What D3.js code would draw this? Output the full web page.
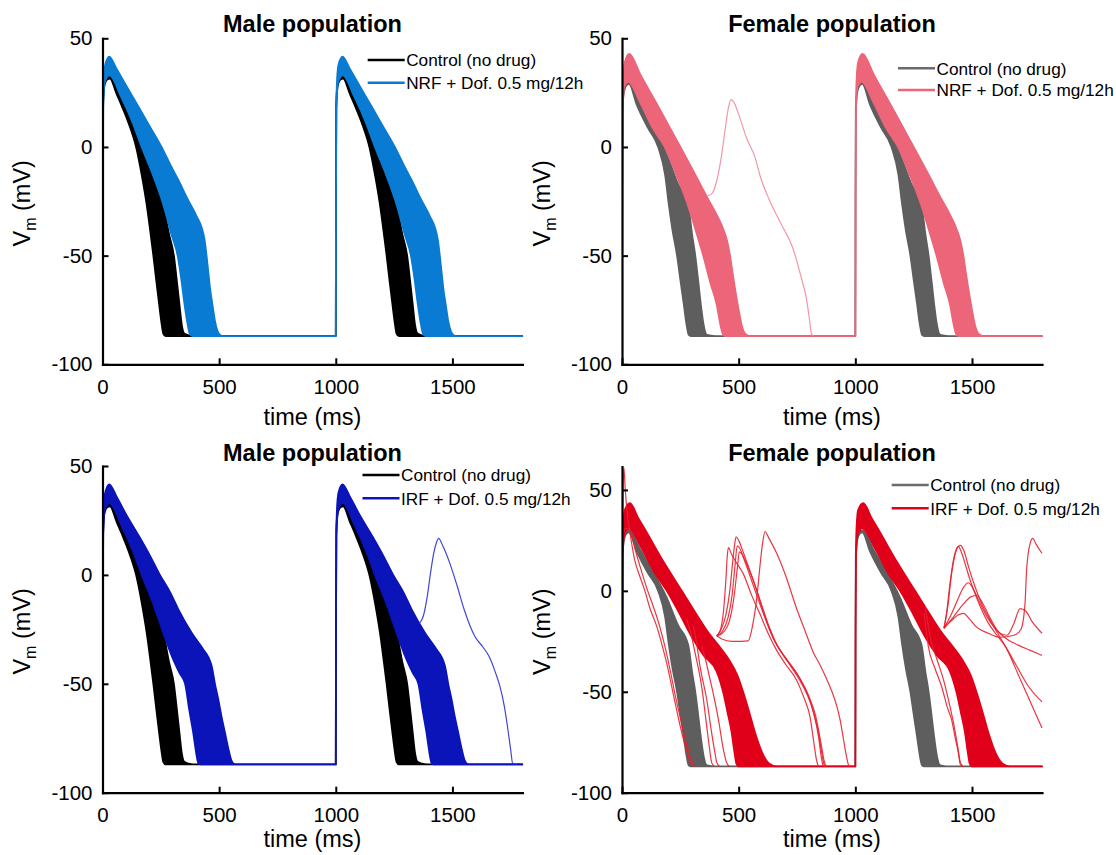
<!DOCTYPE html>
<html>
<head>
<meta charset="utf-8">
<script src="https://cdn.jsdelivr.net/npm/d3@7"></script>
<style>
  body { margin: 0; background: #fff; }
  text { font-family: "Liberation Sans", Arial, Helvetica, sans-serif; fill: #000; }
</style>
</head>
<body>
<svg id="fig" width="1116" height="855"></svg>
<script>
// ticks and time window
var xTicks = [0, 500, 1000, 1500];
var yTicks = [-100, -50, 0, 50];
var beatStarts = [0, 1000];
var timeEnd = 1800;
var restPotential = -87;

// one beat, [time (ms) after stimulus, Vm (mV)]
// "early" = first trace to repolarise, "late" = last one: the population lies between
var maleCtrlEarly = [[0,-87],[1,-20],[2,18],[8,28],[20,31],[32,31.5],[60,24.5],[82,19],[115,10],[144,0],[170,-14],[190,-27],[205,-39],[218,-50],[231,-62],[243,-72.6],[253,-81],[261,-86],[270,-87]];
var maleCtrlLate = [[0,-87],[1,-20],[2,20],[8,29],[20,32],[32,32.5],[80,24],[130,13],[180,0],[230,-15],[262,-27],[285,-40],[306,-50],[318,-61],[330,-72.6],[340,-82],[350,-85.8],[370,-86.7],[390,-87]];

var maleNrfEarly = [[0,-87],[1,-20],[3,18],[10,30],[30,33],[80,23],[130,11],[168,0],[220,-14],[262,-27],[295,-40],[322,-50],[338,-61],[352,-72.6],[364,-81],[374,-86],[385,-87]];
var maleNrfLate = [[0,-87],[1,-20],[3,22],[6,32],[12,38],[29,41.6],[60,36],[100,28.5],[158,17.8],[205,9],[253,0],[290,-8],[325,-15.2],[365,-24],[404,-32],[425,-37],[438,-43],[446,-50],[454,-58],[461,-65],[472,-73],[482,-80],[494,-85],[505,-86.6],[515,-87]];

var maleIrfEarly = [[0,-87],[1,-20],[3,18],[10,30],[30,33],[80,23],[130,11],[168,0],[220,-14],[262,-27],[300,-38],[330,-45],[354,-50],[372,-62],[389,-72.5],[402,-82],[411,-86.5],[420,-87]];
var maleIrfLate = [[0,-87],[1,-20],[3,22],[6,32],[12,38],[29,41.6],[60,36],[100,28],[158,17.5],[205,8.5],[246,0],[290,-8],[325,-15.8],[382,-26.5],[432,-34.2],[455,-38],[468,-41.8],[482,-50],[496,-57],[510,-65],[525,-72.5],[540,-80],[552,-85],[563,-86.7],[575,-87]];

var femaleCtrlEarly = [[0,-87],[1,-20],[2,16],[8,25],[20,28.5],[30,29],[63,19.5],[110,9],[155,0],[185,-13],[200,-26],[216,-38],[236,-50],[250,-61],[265,-72.6],[277,-82],[286,-86.5],[295,-87]];
var femaleCtrlLate = [[0,-87],[1,-20],[2,18],[8,26],[20,29.5],[30,30],[80,20],[130,10],[190,-3],[240,-17],[284,-27],[300,-40],[314,-50],[327,-62],[338,-72.6],[350,-82],[362,-86.3],[380,-86.8],[400,-87]];

var femaleNrfEarly = [[0,-87],[1,-20],[3,18],[10,28],[27,30],[80,20],[130,9],[183,0],[230,-12],[280,-26],[315,-38],[348,-50],[380,-63],[406,-72.6],[422,-82],[434,-86.5],[445,-87]];
var femaleNrfLate = [[0,-87],[1,-20],[3,22],[6,32],[12,39],[31,42.8],[80,33],[151,19.5],[250,0],[310,-12],[374,-25],[400,-30],[427,-36],[450,-43],[463,-50],[474,-58],[484,-65],[500,-75],[513,-82],[530,-86.2],[550,-87]];

var femaleIrfEarly = [[0,-87],[1,-20],[3,18],[10,28],[30,31],[80,22],[140,9],[192,0],[250,-12],[300,-23],[350,-32],[406,-40],[434,-50.4],[452,-60],[470,-70.2],[482,-80],[490,-85.5],[500,-87]];
var femaleIrfLate = [[0,-87],[1,-20],[3,22],[6,33],[12,40],[34,43.4],[70,36],[106,28.9],[180,14],[256,0],[310,-10],[370,-20.7],[420,-28],[463,-35],[495,-42],[520,-50.4],[545,-60],[570,-70.2],[600,-80],[630,-85.5],[663,-87]];

// single traces that leave the population (absolute time, ms)
var femaleNrfOutliers = [
  [[366,-22.5],[385,-21.5],[405,-16],[425,-5],[442,8],[456,18],[467,21.8],[480,20.5],[500,15],[534,4],[571,-5],[591,-13],[632,-24.5],[680,-35],[735,-47.4],[768,-60],[789,-69],[803,-79],[812,-86],[822,-87]]
];
var maleIrfOutliers = [
  [[1359,-22.2],[1375,-19],[1392,-10],[1405,0],[1420,10],[1432,15],[1441,16.8],[1460,13],[1489,5.3],[1520,-5],[1551,-16.1],[1597,-28.4],[1630,-33],[1658,-37.6],[1685,-45],[1704,-51.3],[1722,-60],[1734,-68.1],[1750,-80.4],[1758,-86.5],[1770,-87]]
];
var femaleIrfOutliers = [
  // early repolarisers, first beat
  [[0,-87],[1,-10],[3,40],[8,61],[14,50],[23,38],[34,29],[55,15],[77,7],[98,0],[118,-8],[150,-18],[172,-27],[196,-38],[214,-48],[236,-60],[262,-73],[282,-81],[296,-85.5],[310,-87]],
  [[0,-87],[1,-10],[2,24],[15,31],[34,30],[60,19],[88,8],[110,0],[132,-7],[160,-17],[185,-28],[206,-39],[225,-50],[248,-62],[272,-74],[292,-82],[305,-86],[318,-87]],
  [[277,-14],[295,-21],[313,-30.6],[341,-47.1],[363,-67],[375,-78],[384,-85],[395,-87]],
  [[306,-17.3],[320,-26],[334,-37.2],[363,-53.7],[384,-70.2],[398,-80],[406,-85],[418,-87]],
  [[341,-27.2],[360,-35],[377,-43.7],[395,-53],[413,-63.5],[434,-78.3],[448,-85],[460,-87]],
  // after-depolarisations, first beat
  [[406,-22.3],[420,-20],[435,-10],[445,5],[451,17],[456,21.4],[470,18],[490,14],[520,8.4],[555,-2],[591,-11.4],[630,-22],[663,-29.5],[705,-37],[749,-44.4],[780,-53],[806,-62.6],[822,-75],[834,-84],[842,-87]],
  [[406,-22.3],[425,-19],[445,-12],[462,0],[475,15],[484,24],[489,26.8],[500,25],[520,19],[545,11],[575,1],[610,-12],[650,-24],[700,-33],[750,-41],[790,-50],[820,-60],[842,-72],[855,-83],[862,-87]],
  [[406,-22.3],[430,-20],[455,-13],[472,-2],[484,12],[494,22.3],[505,21],[525,15],[550,7],[580,-3],[615,-14],[655,-25],[705,-34],[760,-43],[800,-52],[830,-62],[852,-75],[866,-84],[874,-87]],
  [[406,-22.3],[430,-21],[460,-15],[480,-3],[495,12],[503,19.3],[515,18],[535,13],[560,6],[590,-4],[625,-16],[665,-27],[715,-36],[770,-46],[810,-56],[838,-68],[856,-80],[866,-86],[874,-87]],
  [[406,-22.3],[430,-24],[470,-25],[510,-25],[541,-24.8],[560,-17],[577,-4.2],[591,12],[603,24],[613,29.4],[630,26],[663,18.6],[700,8],[749,-9],[785,-20],[820,-30.5],[850,-37],[877,-43.7],[900,-50],[920,-56.9],[935,-64],[949,-73.4],[962,-82],[970,-86],[978,-87]],
  // early repolarisers, second beat
  [[1295,-10.7],[1313,-27.6],[1340,-38],[1370,-47.5],[1395,-58],[1413,-64],[1430,-74],[1441,-80],[1450,-86],[1460,-87]],
  [[1300,-8],[1325,-25],[1350,-34],[1380,-45],[1405,-57],[1425,-68],[1440,-78],[1450,-85],[1462,-87]],
  // after-depolarisations, second beat
  [[1380,-18.5],[1392,-10],[1405,3],[1420,15],[1441,22],[1455,19],[1470,13.6],[1490,6],[1513,-1.3],[1540,-9],[1570,-16],[1600,-21],[1640,-27],[1690,-37],[1740,-47],[1800,-55]],
  [[1380,-18.5],[1396,-8],[1412,8],[1430,19],[1449,22.5],[1465,20],[1485,12],[1510,3],[1540,-6],[1575,-14],[1610,-21],[1650,-29],[1700,-42],[1750,-55],[1800,-68]],
  [[1380,-18.5],[1410,-12],[1440,-4],[1465,2],[1484,4],[1505,1],[1530,-5],[1565,-13],[1606,-19.4],[1650,-24],[1700,-27],[1750,-29.5],[1800,-32]],
  [[1380,-18.5],[1420,-13],[1460,-7],[1495,-3],[1520,-2.3],[1545,-6],[1580,-14],[1620,-21],[1650,-22],[1680,-16],[1706,-8.8],[1730,-10],[1756,-15],[1800,-21]],
  [[1380,-18.5],[1410,-15],[1440,-12],[1463,-11.2],[1490,-14],[1520,-18],[1570,-21],[1620,-23],[1680,-22],[1710,-19],[1727,-6.6],[1734,10.3],[1749,23.5],[1760,26],[1775,23],[1800,18.6]]
];

var ctrlLabel = 'Control (no drug)';
var nrfLabel = 'NRF + Dof. 0.5 mg/12h';
var irfLabel = 'IRF + Dof. 0.5 mg/12h';

var COLORS = {
  maleCtrl: '#000000',
  femaleCtrl: '#5e5e5e',
  femaleCtrlLegend: '#6b6b6b',
  maleNrf: '#0a7bd2',
  femaleNrf: '#ec6579',
  femaleNrfThin: '#f08c9c',
  maleIrf: '#0a14b8',
  maleIrfThin: '#2a32d4',
  femaleIrf: '#e0001a',
  femaleIrfThin: '#e8202f'
};

// layout of the four panels (pixels)
var panels = [
  { x0: 102.5, x1: 522.4, yBot: 364.3, yTop: 38.3, yMax: 50, title: 'Male population', titleY: 32,
    xLabelY: 425, yLabelX: 30, legX: 367.7, legY: 60, legGap: 22.7,
    ctrl: [maleCtrlEarly, maleCtrlLate, COLORS.maleCtrl, COLORS.maleCtrl],
    drug: [maleNrfEarly, maleNrfLate, COLORS.maleNrf, COLORS.maleNrf, nrfLabel],
    extra: [], extraColor: COLORS.maleNrf },
  { x0: 622, x1: 1042, yBot: 364.3, yTop: 38.3, yMax: 50, title: 'Female population', titleY: 32,
    xLabelY: 425, yLabelX: 549.5, legX: 898, legY: 68.3, legGap: 21.7,
    ctrl: [femaleCtrlEarly, femaleCtrlLate, COLORS.femaleCtrl, COLORS.femaleCtrlLegend],
    drug: [femaleNrfEarly, femaleNrfLate, COLORS.femaleNrf, COLORS.femaleNrf, nrfLabel],
    extra: femaleNrfOutliers, extraColor: COLORS.femaleNrfThin },
  { x0: 102.5, x1: 522.4, yBot: 792.7, yTop: 466, yMax: 50, title: 'Male population', titleY: 460.5,
    xLabelY: 847, yLabelX: 30, legX: 362.5, legY: 475, legGap: 23.3,
    ctrl: [maleCtrlEarly, maleCtrlLate, COLORS.maleCtrl, COLORS.maleCtrl],
    drug: [maleIrfEarly, maleIrfLate, COLORS.maleIrf, COLORS.maleIrf, irfLabel],
    extra: maleIrfOutliers, extraColor: COLORS.maleIrfThin },
  { x0: 622, x1: 1042, yBot: 792.7, yTop: 466.7, yMax: 61.5, title: 'Female population', titleY: 460.5,
    xLabelY: 847, yLabelX: 549.5, legX: 891.7, legY: 485, legGap: 23.3,
    ctrl: [femaleCtrlEarly, femaleCtrlLate, COLORS.femaleCtrl, COLORS.femaleCtrlLegend],
    drug: [femaleIrfEarly, femaleIrfLate, COLORS.femaleIrf, COLORS.femaleIrf, irfLabel],
    extra: femaleIrfOutliers, extraColor: COLORS.femaleIrfThin }
];

var svg = d3.select('#fig');

// repeat a beat shape at every stimulus, then hold rest until the end
var allBeats = function(shape){
  var pts = [];
  beatStarts.forEach(function(b){
    shape.forEach(function(p){ pts.push([p[0] + b, p[1]]); });
  });
  pts.push([timeEnd, restPotential]);
  return pts;
};

// matlab style labels: plain hyphen, no thousands separator
var plainTick = function(d){ return String(d); };

var drawPanel = function(p, idx){
  var x = d3.scaleLinear().domain([0, timeEnd]).range([p.x0, p.x1]);
  var y = d3.scaleLinear().domain([-100, p.yMax]).range([p.yBot, p.yTop]);
  var g = svg.append('g');

  var clipId = 'clip' + idx;
  g.append('clipPath').attr('id', clipId).append('rect')
    .attr('x', p.x0).attr('y', p.yTop - 2)
    .attr('width', p.x1 - p.x0 + 1).attr('height', p.yBot - p.yTop + 2);
  var plot = g.append('g').attr('clip-path', 'url(#' + clipId + ')');

  var line = d3.line()
    .x(function(d){ return x(d[0]); })
    .y(function(d){ return y(d[1]); })
    .curve(d3.curveMonotoneX);

  // population = area between first and last repolarising trace
  var band = function(early, late, color){
    var e = allBeats(early), l = allBeats(late).reverse();
    plot.append('path')
      .attr('d', line(e) + line(l).replace(/^M/, 'L') + 'Z')
      .attr('fill', color)
      .attr('stroke', color)
      .attr('stroke-width', 1.8)
      .attr('stroke-linejoin', 'round');
  };
  band(p.ctrl[0], p.ctrl[1], p.ctrl[2]);
  band(p.drug[0], p.drug[1], p.drug[2]);

  plot.selectAll('.outlier').data(p.extra).enter()
    .append('path')
    .attr('class', 'outlier')
    .attr('d', line)
    .attr('fill', 'none')
    .attr('stroke', p.extraColor)
    .attr('stroke-width', 1.2)
    .attr('stroke-opacity', 0.9);

  // axes, ticks pointing inwards like matlab
  var yAxis = d3.axisLeft(y).tickValues(yTicks).tickFormat(plainTick)
    .tickSizeInner(-6).tickSizeOuter(0).tickPadding(10);
  var xAxis = d3.axisBottom(x).tickValues(xTicks).tickFormat(plainTick)
    .tickSizeInner(-6).tickSizeOuter(0).tickPadding(15);

  var gy = g.append('g').attr('transform', 'translate(' + p.x0 + ',0)').call(yAxis);
  var gx = g.append('g').attr('transform', 'translate(0,' + p.yBot + ')').call(xAxis);
  [gx, gy].forEach(function(a){
    a.select('.domain').attr('stroke', '#000').attr('stroke-width', 2.2).attr('stroke-linecap', 'square');
    a.selectAll('.tick line').attr('stroke', '#000').attr('stroke-width', 2);
    a.selectAll('.tick text')
      .style('font-size', '20.5px')
      .style('font-family', '"Liberation Sans", Arial, sans-serif')
      .attr('fill', '#000');
  });

  var cx = (p.x0 + p.x1) / 2;
  g.append('text')
    .attr('x', cx).attr('y', p.titleY)
    .attr('text-anchor', 'middle')
    .style('font-size', '23.5px').style('font-weight', 'bold')
    .text(p.title);

  g.append('text')
    .attr('x', cx).attr('y', p.xLabelY)
    .attr('text-anchor', 'middle')
    .style('font-size', '23.5px')
    .text('time (ms)');

  var cy = (p.yTop + p.yBot) / 2 + 2;
  var yl = g.append('text')
    .attr('transform', 'translate(' + p.yLabelX + ',' + cy + ') rotate(-90)')
    .attr('text-anchor', 'middle')
    .style('font-size', '23.5px');
  yl.append('tspan').text('V');
  yl.append('tspan').attr('dy', 6).style('font-size', '16px').text('m');
  yl.append('tspan').attr('dy', -6).text(' (mV)');

  // legend
  var rows = [[ctrlLabel, p.ctrl[3]], [p.drug[4], p.drug[3]]];
  rows.forEach(function(r, i){
    var ry = p.legY + i * p.legGap;
    g.append('line')
      .attr('x1', p.legX).attr('x2', p.legX + 37)
      .attr('y1', ry).attr('y2', ry)
      .attr('stroke', r[1]).attr('stroke-width', 2.6);
    g.append('text')
      .attr('x', p.legX + 38.5).attr('y', ry + 6.2)
      .style('font-size', '17.2px')
      .text(r[0]);
  });
};

panels.forEach(drawPanel);
</script>
</body>
</html>
